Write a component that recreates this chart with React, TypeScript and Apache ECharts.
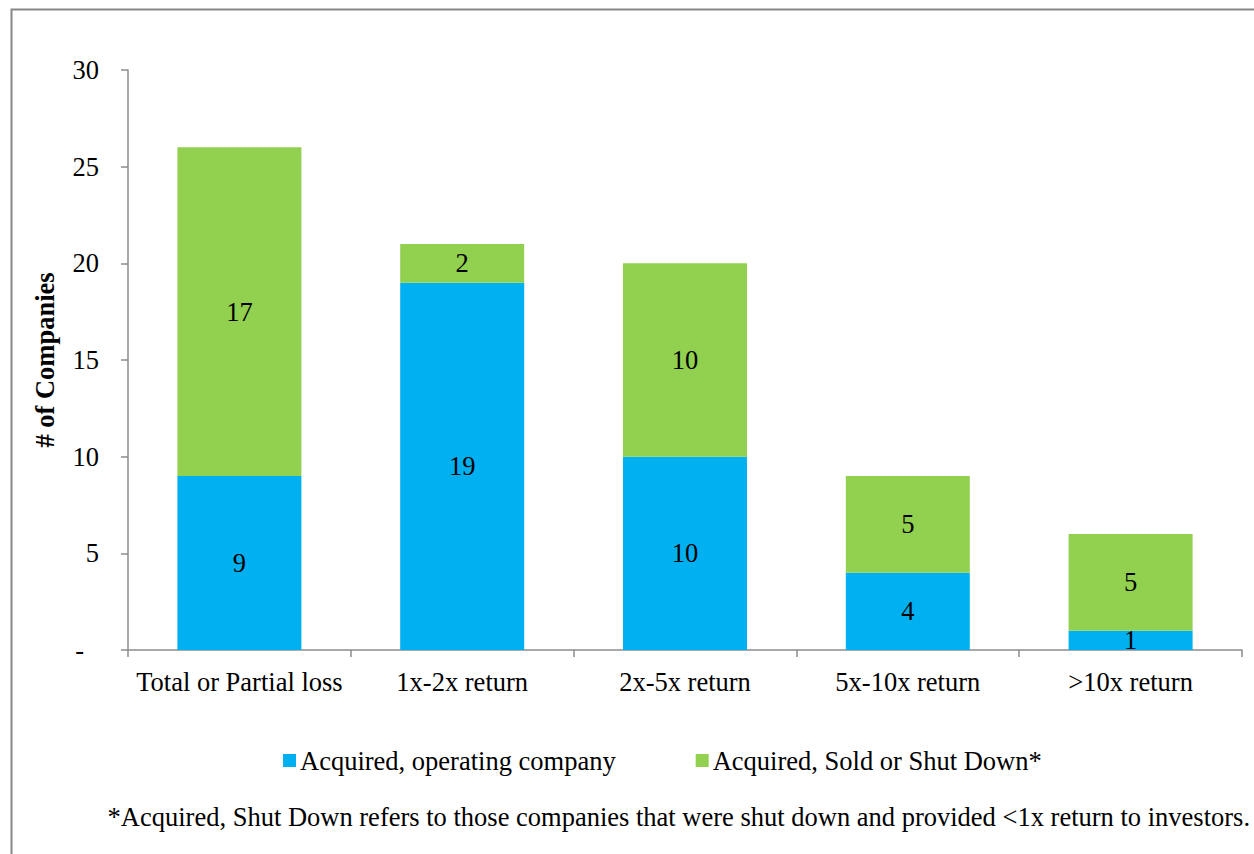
import React, { useEffect, useRef } from "react";
import * as echarts from "echarts";

// Return buckets and the number of companies in each outcome
const categories = [
  "Total or Partial loss",
  "1x-2x return",
  "2x-5x return",
  "5x-10x return",
  ">10x return",
];
const operatingCompany = [9, 19, 10, 4, 1];
const soldOrShutDown = [17, 2, 10, 5, 5];
const yTicks = [0, 5, 10, 15, 20, 25, 30];

const SERIF = "'Liberation Serif', 'Times New Roman', serif";
const AXIS_GRAY = "#8c8c8c";
const FS = 26.5;

export default function App() {
  const ref = useRef<HTMLDivElement>(null);

  useEffect(() => {
    if (!ref.current) return;
    const chart = echarts.init(ref.current, undefined, { renderer: "svg" });
    chart.setOption({
      animation: false,
      backgroundColor: "#ffffff",
      textStyle: { fontFamily: SERIF, color: "#000" },
      grid: { left: 128, right: 12, top: 70, bottom: 204 },
      legend: {
        left: 278,
        top: 742,
        itemWidth: 13,
        itemHeight: 13,
        itemGap: 80,
        icon: "rect",
        textStyle: { fontFamily: SERIF, fontSize: FS, color: "#000", padding: [0, 0, 0, -1] },
        data: ["Acquired, operating company", "Acquired, Sold or Shut Down*"],
      },
      xAxis: {
        type: "category",
        data: categories,
        axisLine: { lineStyle: { color: AXIS_GRAY, width: 1.5 } },
        axisTick: { show: true, length: 7, alignWithLabel: false, lineStyle: { color: AXIS_GRAY, width: 1.5 } },
        axisLabel: { fontFamily: SERIF, fontSize: FS, color: "#000", margin: 18, interval: 0 },
      },
      yAxis: {
        type: "value",
        min: yTicks[0],
        max: yTicks[yTicks.length - 1],
        interval: 5,
        name: "# of Companies",
        nameLocation: "middle",
        nameRotate: 90,
        nameGap: 70,
        nameTextStyle: { fontFamily: SERIF, fontSize: FS, fontWeight: "bold", color: "#000" },
        splitLine: { show: false },
        axisLine: { show: true, lineStyle: { color: AXIS_GRAY, width: 1.5 } },
        axisTick: { show: true, length: 7, lineStyle: { color: AXIS_GRAY, width: 1.5 } },
        axisLabel: {
          fontFamily: SERIF,
          fontSize: FS,
          color: "#000",
          margin: 29,
          formatter: (v: number) => (v === 0 ? "{dash|-}" : String(v)),
          rich: { dash: { fontFamily: SERIF, fontSize: FS, color: "#000", padding: [0, 15, 0, 0] } },
        },
      },
      series: [
        {
          name: "Acquired, operating company",
          type: "bar",
          stack: "total",
          data: operatingCompany,
          barWidth: 124,
          itemStyle: { color: "#00b0f0" },
          label: { show: true, position: "inside", fontFamily: SERIF, fontSize: FS, color: "#000" },
        },
        {
          name: "Acquired, Sold or Shut Down*",
          type: "bar",
          stack: "total",
          data: soldOrShutDown,
          barWidth: 124,
          itemStyle: { color: "#92d050" },
          label: { show: true, position: "inside", fontFamily: SERIF, fontSize: FS, color: "#000" },
        },
      ],
      graphic: [
        {
          type: "rect",
          left: 9,
          top: 7,
          shape: { x: 0, y: 0, width: 1300, height: 900 },
          style: { fill: "none", stroke: "#878787", lineWidth: 2 },
          silent: true,
          z: -1,
        },
        {
          type: "text",
          right: 4,
          top: 803,
          style: {
            text: "*Acquired, Shut Down refers to those companies that were shut down and provided <1x return to investors.",
            fontFamily: SERIF,
            fontSize: FS,
            fill: "#000",
          },
        },
      ],
    });
    return () => chart.dispose();
  }, []);

  return (
    <div
      ref={ref}
      style={{ position: "fixed", left: 0, top: 0, width: 1254, height: 854, background: "#fff" }}
    />
  );
}
